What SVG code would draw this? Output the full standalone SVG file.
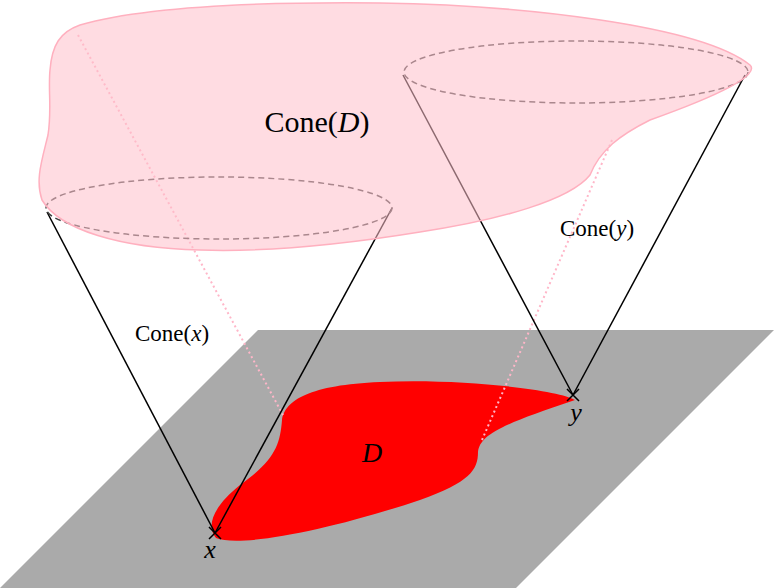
<svg xmlns="http://www.w3.org/2000/svg" width="774" height="588" viewBox="0 0 774 588">
<style>
.cl{stroke:#000;stroke-width:1.5;fill:none}
.el{stroke:#444;stroke-width:1.5;fill:none;stroke-dasharray:6 4}
.dot{stroke:#ffb6c8;stroke-width:2;fill:none;stroke-dasharray:2 3}
.t{font-family:"Liberation Serif","DejaVu Serif",serif;fill:#000}
</style>
<rect width="774" height="588" fill="#fff"/>
<polygon points="258,330 774,330 516,588 0,588" fill="#aaaaaa"/>
<path id="D" d="M216,538 C240,548 330,530 420,500 C470,482 478,470 478,452 C480,435 500,425 575,400 C560,390 460,378 380,382 C310,385 285,400 282,420 C280,445 275,460 240,485 C215,505 205,525 216,538 Z" fill="#ff0000"/>
<g id="connectors">
<line class="dot" x1="78" y1="35" x2="283" y2="415"/>
<line class="dot" x1="612" y1="140" x2="482" y2="440"/>
<line class="cl" x1="215" y1="533" x2="47" y2="212"/>
<line class="cl" x1="215" y1="533" x2="392" y2="208"/>
<line class="cl" x1="573" y1="395" x2="403" y2="75"/>
<line class="cl" x1="573" y1="395" x2="745" y2="75"/>
<path class="cl" d="M209,527 l12,12 M221,527 l-12,12 M567,389 l12,12 M579,389 l-12,12"/>
</g>
<ellipse class="el" cx="219" cy="208" rx="173" ry="31"/>
<ellipse class="el" cx="576" cy="72" rx="172" ry="31"/>
<path id="coneD" d="M80,25 C150,5 280,2 380,3 C520,5 700,25 750,65 C760,75 720,95 650,120 C620,135 600,150 590,175 C570,200 500,220 420,232 C340,245 260,252 200,250 C120,248 60,230 42,200 C35,180 42,160 48,135 C52,110 48,90 50,70 C52,45 60,32 80,25 Z" fill="#ffc0cb" fill-opacity="0.55" stroke="#ffb0bf" stroke-width="1.5"/>
<text class="t" x="317" y="132" font-size="30" text-anchor="middle">Cone(<tspan font-style="italic">D</tspan>)</text>
<text class="t" x="172" y="341" font-size="23" text-anchor="middle">Cone(<tspan font-style="italic">x</tspan>)</text>
<text class="t" x="597" y="236" font-size="23" text-anchor="middle">Cone(<tspan font-style="italic">y</tspan>)</text>
<text class="t" x="372" y="462" font-size="28" font-style="italic" text-anchor="middle">D</text>
<text class="t" x="210" y="558" font-size="26" font-style="italic" text-anchor="middle">x</text>
<text class="t" x="576" y="421" font-size="26" font-style="italic" text-anchor="middle">y</text>
</svg>
